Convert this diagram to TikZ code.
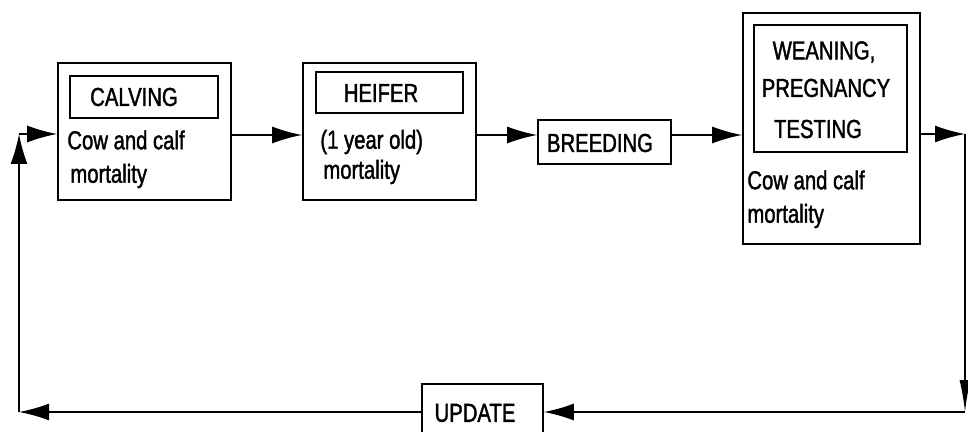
\documentclass[tikz,border=0pt]{standalone}
\usepackage{fontspec}
\setmainfont{Liberation Sans}[FakeStretch=0.78,FakeBold=1.5]
\usepackage{tikz}
\usetikzlibrary{arrows.meta}
\usetikzlibrary{positioning,calc}

\begin{document}
\begin{tikzpicture}[x=0.5pt,y=-0.5pt]
\tikzstyle{every node}+=[inner sep=0pt, font=\fontsize{13pt}{15pt}\selectfont]
\tikzstyle{box}=[draw=black, line width=0.8pt, rectangle]
\tikzstyle{flow}=[black, line width=0.8pt, -{Latex[length=15pt,width=8.5pt]}]
\useasboundingbox (0,0) rectangle (968,432);
\clip (0,0) rectangle (968,432);
\node [box, minimum width=86.5pt, minimum height=68.5pt] (calving) at (144.5,131.5) {};
\node [box, minimum width=74pt, minimum height=21pt] (calvingin) at (144,97) {};
\node (calvingt) at (134,97) {CALVING};
\node [anchor=west] (calvingc) at (67,140) {Cow and calf};
\node [anchor=west] (calvingm) at (70,176) {mortality};
\node [box, minimum width=86.5pt, minimum height=68.5pt] (heifer) at (389.5,131.5) {};
\node [box, minimum width=73.5pt, minimum height=20.5pt] (heiferin) at (389.5,92.5) {};
\node (heifert) at (381,93) {HEIFER};
\node [anchor=west] (heifery) at (320,142) {(1 year old)};
\node [anchor=west] (heiferm) at (323,172) {mortality};
\node [box, minimum width=66.5pt, minimum height=22pt] (breeding) at (604.5,142) {};
\node (breedingt) at (600,143) {BREEDING};
\node [box, minimum width=88.5pt, minimum height=115.5pt] (weaning) at (831.5,128.5) {};
\node [box, minimum width=76.5pt, minimum height=63.5pt] (weaningin) at (830.5,88.5) {};
\node (weaningw) at (824,52) {WEANING,};
\node (weaningp) at (826,88) {PREGNANCY};
\node (weaningt) at (818,129) {TESTING};
\node [anchor=west] (weaningc) at (747,180) {Cow and calf};
\node [anchor=west] (weaningm) at (747,216) {mortality};
\node [box, minimum width=60.5pt, minimum height=28pt] (update) at (482.5,412) {};
\node (updatet) at (475,413) {UPDATE};
\coordinate (row) at (0,135);
\coordinate (lt) at (19,134);
\coordinate (lb) at (19,412);
\coordinate (rt) at (965,134);
\coordinate (rb) at (965,412);
\draw [flow] (calving.east |- row) -- (heifer.west |- row);
\draw [flow] (heifer.east |- row) -- (breeding.west |- row);
\draw [flow] (breeding.east |- row) -- (weaning.west |- row);
\draw [flow] (weaning.east |- rt) -- (rt);
\draw [flow, -{Latex[length=16pt,width=5.5pt]}] (rt) -- (rb);
\draw [flow] (rb) -- (update.east |- rb);
\draw [flow] (update.west |- lb) -- (lb);
\draw [flow] (lb) -- (lt);
\draw [flow] (lt) -- (calving.west |- lt);
\end{tikzpicture}
\end{document}
